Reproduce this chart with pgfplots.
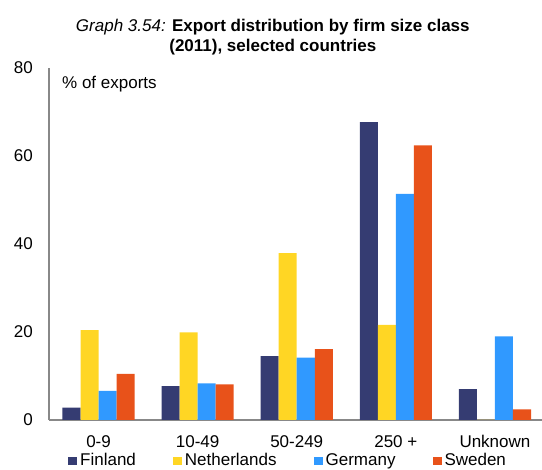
\documentclass[border=0pt]{standalone}
\usepackage{fontspec}
\setmainfont{Liberation Sans}
\usepackage{pgfplots}
\pgfplotsset{compat=1.18}

\definecolor{finland}{RGB}{53,60,114}
\definecolor{netherlands}{RGB}{255,214,36}
\definecolor{germany}{RGB}{48,153,255}
\definecolor{sweden}{RGB}{232,82,26}
\definecolor{axisgray}{RGB}{136,136,136}

\newcommand{\fs}{\fontsize{17bp}{20bp}\selectfont}

\begin{document}
\begin{tikzpicture}
\begin{axis}[
    scale only axis,
    width=493bp,
    height=352bp,
    ybar=0pt,
    bar width=0.182,
    xmin=-0.5, xmax=4.475,
    ymin=0, ymax=80,
    xtick={0,1,2,3,4},
    xticklabels={0-9,10-49,50-249,250 +,Unknown},
    ytick={0,20,40,60,80},
    major tick length=0pt,
    axis x line*=bottom,
    axis y line*=left,
    axis line style={axisgray, line width=1.5bp},
    /pgf/number format/assume math mode=true,
    tick label style={font=\fs, inner sep=0pt},
    yticklabel style={anchor=east, xshift=-16bp},
    xticklabel style={anchor=north, yshift=-15bp},
    every axis title/.style={at={(0.454,1)}, anchor=south, yshift=12.4bp,
        inner sep=0pt, align=center, font=\fs},
    title={\textit{Graph 3.54:} \textbf{Export distribution by firm size class}\\\textbf{(2011), selected countries}},
    legend columns=4,
    legend style={at={(0.0385,-0.0938)}, anchor=north west, draw=none,
        inner sep=0pt, font=\fs, nodes={inner sep=0pt},
        /tikz/every odd column/.append style={column sep=3bp},
        /tikz/every even column/.append style={column sep=37bp}},
    legend image code/.code={\fill[#1] (0bp,-4.5bp) rectangle (9bp,3bp);},
    clip=false,
]
\addplot[fill=finland, draw=none] coordinates {(0,2.8) (1,7.7) (2,14.5) (3,67.7) (4,7.0)};
\addplot[fill=netherlands, draw=none] coordinates {(0,20.4) (1,19.9) (2,37.9) (3,21.6) (4,0)};
\addplot[fill=germany, draw=none] coordinates {(0,6.6) (1,8.3) (2,14.2) (3,51.4) (4,19.0)};
\addplot[fill=sweden, draw=none] coordinates {(0,10.5) (1,8.1) (2,16.1) (3,62.4) (4,2.4)};
\legend{Finland, Netherlands, Germany, Sweden}
\node[anchor=base west, inner sep=0pt, font=\fs] at ([xshift=13bp,yshift=-21bp]rel axis cs:0,1) {\% of exports};
\end{axis}
\pgfresetboundingbox
\path[use as bounding box] ([shift={(-49bp,-50bp)}]current axis.south west) rectangle ([shift={(0bp,68bp)}]current axis.north east);
\end{tikzpicture}
\end{document}
